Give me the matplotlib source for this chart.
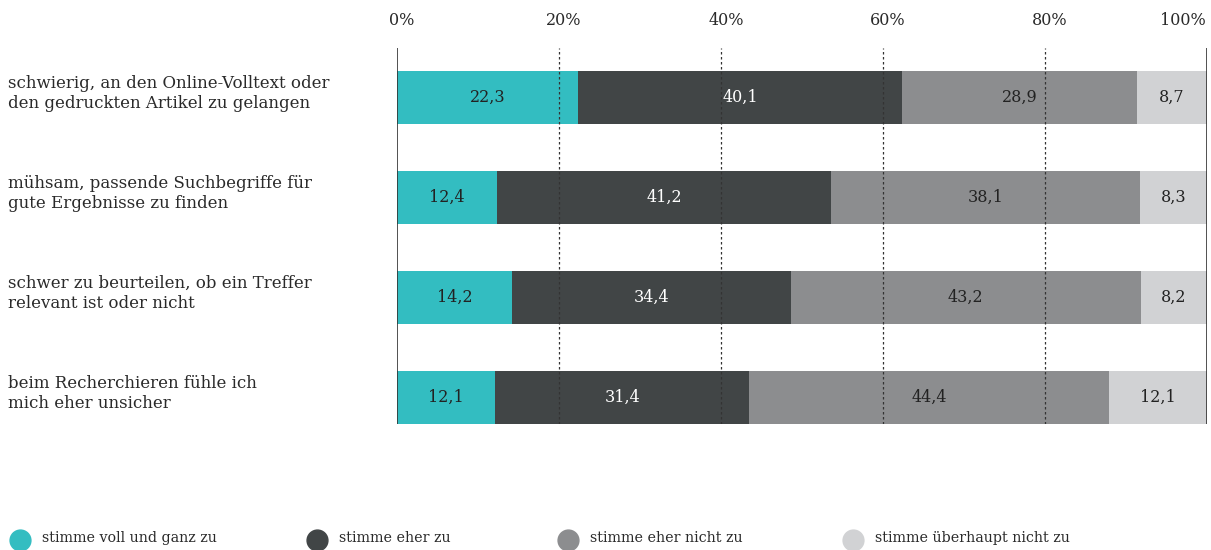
import matplotlib.pyplot as plt
import numpy as np
from matplotlib.lines import Line2D

# data
categories = [
    "schwierig, an den Online-Volltext oder\nden gedruckten Artikel zu gelangen",
    "mühsam, passende Suchbegriffe für\ngute Ergebnisse zu finden",
    "schwer zu beurteilen, ob ein Treffer\nrelevant ist oder nicht",
    "beim Recherchieren fühle ich\nmich eher unsicher",
]
series_names = ["stimme voll und ganz zu", "stimme eher zu",
                "stimme eher nicht zu", "stimme überhaupt nicht zu"]
voll = [22.3, 12.4, 14.2, 12.1]
eher = [40.1, 41.2, 34.4, 31.4]
eher_nicht = [28.9, 38.1, 43.2, 44.4]
gar_nicht = [8.7, 8.3, 8.2, 12.1]
xticks = [0, 20, 40, 60, 80, 100]

colors = ["#33bdc1", "#414546", "#8c8d8f", "#d1d2d4"]
text_colors = ["#222222", "#ffffff", "#222222", "#222222"]
txt = "#2a2a2a"

plt.rcParams['font.family'] = ['DejaVu Serif']

fig = plt.figure(figsize=(12.11, 5.5), dpi=100)
ax = fig.add_axes([397 / 1211, 1 - 424 / 550, 810 / 1211, 376 / 550])

y = np.arange(len(categories))
left = np.zeros(len(categories))
for vals, col, tcol in zip([voll, eher, eher_nicht, gar_nicht], colors, text_colors):
    vals = np.array(vals)
    ax.barh(y, vals, left=left, height=0.53, color=col, zorder=1)
    for yi, l, v in zip(y, left, vals):
        ax.text(l + v / 2, yi, f"{v:.1f}".replace(".", ","), ha="center", va="center",
                color=tcol, fontsize=11.5, zorder=3)
    left += vals

# grid lines
for xv in xticks[1:-1]:
    ax.axvline(xv, color="#333333", lw=0.9, ls=(0, (2, 2)), zorder=2)
ax.axvline(0, color="#333333", lw=1.2, zorder=2)
ax.axvline(100, color="#333333", lw=1.2, zorder=2)

ax.set_xlim(0, 100)
ax.set_ylim(3.265, -0.495)
ax.set_xticks([])
ax.set_yticks([])
for s in ax.spines.values():
    s.set_visible(False)

for xv in xticks:
    if xv == 100:
        ax.text(99.8, -0.77, f"{xv}%", ha="right", va="center", fontsize=11.5, color=txt)
    else:
        ax.text(xv + 0.6, -0.77, f"{xv}%", ha="center", va="center", fontsize=11.5, color=txt)

for yi, c in zip(y, categories):
    fig.text(8 / 1211, 1 - (97.5 + 100 * yi - 4) / 550, c, ha="left", va="center",
             fontsize=12, color=txt, linespacing=1.3)

# legend
leg_x = [20, 317, 568, 853]
for lx, name, col in zip(leg_x, series_names, colors):
    fig.add_artist(Line2D([lx / 1211], [1 - 540 / 550], marker="o", markersize=15,
                          color=col, transform=fig.transFigure))
    fig.text((lx + 22) / 1211, 1 - 538 / 550, name, ha="left", va="center",
             fontsize=10.3, color=txt)

fig.savefig("out.png", dpi=100)
